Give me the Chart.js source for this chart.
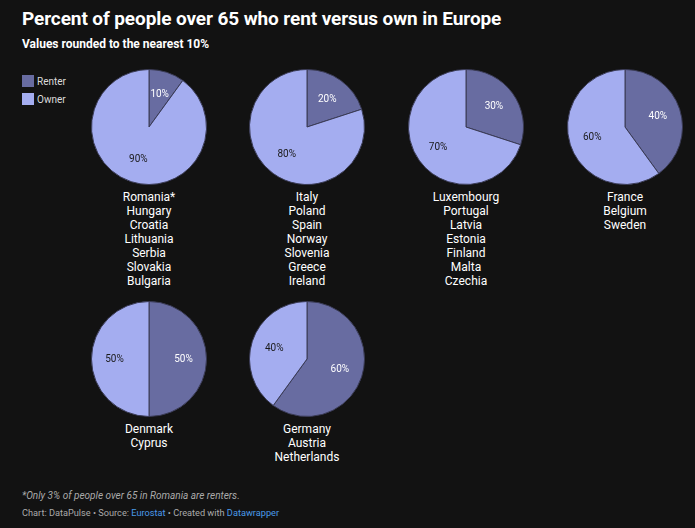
<!DOCTYPE html>
<html>
<head>
<meta charset="utf-8">
<script src="https://cdn.jsdelivr.net/npm/chart.js@4"></script>
<style>
  html, body { margin: 0; padding: 0; background: #121212; }
  body { width: 695px; height: 528px; position: relative; overflow: hidden;
         font-family: Roboto, "Noto Sans", sans-serif; color: #fff; }
  .title { position: absolute; left: 22px; top: 7px; font-size: 19px; font-weight: 700; letter-spacing: -0.1px; }
  .subtitle { position: absolute; left: 22px; top: 37px; font-size: 12px; font-weight: 700; }
  .legend { position: absolute; left: 22px; top: 72px; font-size: 10px; color: #ddd; }
  .legend div { display: flex; align-items: center; height: 18px; }
  .legend span.sw { width: 12px; height: 12px; margin-right: 3px; display: inline-block; }
  .pie { position: absolute; width: 118px; height: 118px; }
  .names { position: absolute; width: 150px; text-align: center; font-size: 12px; line-height: 14px; color: #fff; }
  .note { position: absolute; left: 22px; top: 490px; font-size: 10px; font-style: italic; color: #aaa; }
  .credit { position: absolute; left: 22px; top: 507px; font-size: 9.2px; color: #aaa; }
  .credit a { color: #4a9ae8; text-decoration: none; }
</style>
</head>
<body>
<div class="title">Percent of people over 65 who rent versus own in Europe</div>
<div class="subtitle">Values rounded to the nearest 10%</div>
<div class="legend" id="legend"></div>
<div id="charts"></div>
<div class="note">*Only 3% of people over 65 in Romania are renters.</div>
<div class="credit">Chart: DataPulse • Source: <a>Eurostat</a> • Created with <a>Datawrapper</a></div>

<script>
// data
const seriesNames = ['Renter', 'Owner'];
const renterPct = [10, 20, 30, 40, 50, 60];
const ownerPct  = [90, 80, 70, 60, 50, 40];
const groupCountries = [
  ['Romania*', 'Hungary', 'Croatia', 'Lithuania', 'Serbia', 'Slovakia', 'Bulgaria'],
  ['Italy', 'Poland', 'Spain', 'Norway', 'Slovenia', 'Greece', 'Ireland'],
  ['Luxembourg', 'Portugal', 'Latvia', 'Estonia', 'Finland', 'Malta', 'Czechia'],
  ['France', 'Belgium', 'Sweden'],
  ['Denmark', 'Cyprus'],
  ['Germany', 'Austria', 'Netherlands']
];

const COLORS = ['#686ca1', '#a4adf0'];
const LABEL_COLORS = ['#ffffff', '#1a1a1a'];
// pie centres in the layout (4 columns, 2 rows)
const colX = [149, 307, 466, 625];
const rowY = [127, 359];

const legend = document.getElementById('legend');
seriesNames.forEach((n, i) => {
  legend.innerHTML += `<div><span class="sw" style="background:${COLORS[i]}"></span>${n}</div>`;
});

// draws the % label inside each slice
const sliceLabels = {
  id: 'sliceLabels',
  afterDatasetsDraw(chart) {
    const { ctx } = chart;
    const meta = chart.getDatasetMeta(0);
    ctx.save();
    ctx.font = '10px Roboto, sans-serif';
    ctx.textAlign = 'center';
    ctx.textBaseline = 'middle';
    meta.data.forEach((arc, i) => {
      const mid = (arc.startAngle + arc.endAngle) / 2;
      const r = arc.outerRadius * 0.6;
      ctx.fillStyle = LABEL_COLORS[i];
      ctx.fillText(chart.data.datasets[0].data[i] + '%', arc.x + Math.cos(mid) * r, arc.y + Math.sin(mid) * r);
    });
    ctx.restore();
  }
};

const wrap = document.getElementById('charts');
renterPct.forEach((rent, i) => {
  const cx = colX[i % 4], cy = rowY[Math.floor(i / 4)];
  const box = document.createElement('div');
  box.className = 'pie';
  box.style.left = (cx - 59) + 'px';
  box.style.top = (cy - 59) + 'px';
  const cv = document.createElement('canvas');
  box.appendChild(cv);
  wrap.appendChild(box);

  const names = document.createElement('div');
  names.className = 'names';
  names.style.left = (cx - 75) + 'px';
  names.style.top = (cy + 63) + 'px';
  names.innerHTML = groupCountries[i].join('<br>');
  wrap.appendChild(names);

  new Chart(cv.getContext('2d'), {
    type: 'pie',
    data: {
      labels: seriesNames,
      datasets: [{ data: [rent, ownerPct[i]], backgroundColor: COLORS,
        borderColor: '#3a3b55', borderWidth: 1 }]
    },
    options: {
      responsive: true, maintainAspectRatio: false, animation: false,
      layout: { padding: 1 },
      plugins: { legend: { display: false }, tooltip: { enabled: false } }
    },
    plugins: [sliceLabels]
  });
});
</script>
</body>
</html>
